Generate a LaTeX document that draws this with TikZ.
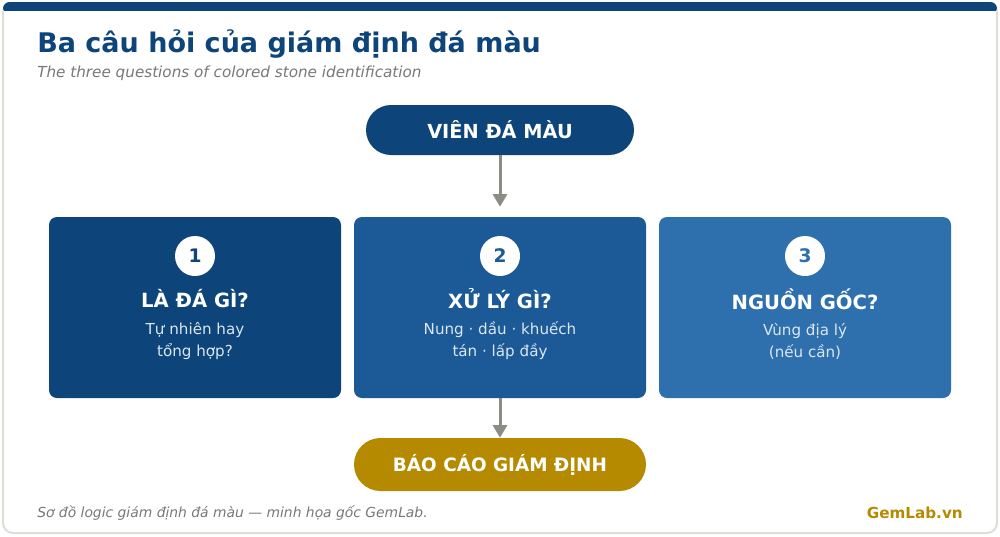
\documentclass[tikz,border=0pt]{standalone}
\usepackage{fontspec}
\setmainfont{DejaVu Sans}
\usetikzlibrary{arrows.meta}

\definecolor{navy}{RGB}{13,68,121}
\definecolor{midblue}{RGB}{27,90,151}
\definecolor{lightblue}{RGB}{46,111,174}
\definecolor{gold}{RGB}{181,138,0}
\definecolor{arrowgray}{RGB}{140,140,132}
\definecolor{framegray}{RGB}{222,222,214}
\definecolor{subgray}{RGB}{120,120,120}
\definecolor{desctext}{RGB}{220,230,242}

\tikzset{
  pill/.style={fill=#1, rounded corners=18.75pt, minimum width=201pt, minimum height=37.5pt,
    text=white, font=\bfseries\fontsize{14.5}{17}\selectfont, inner sep=0pt},
  qbox/.style={fill=#1, rounded corners=6pt, minimum width=219pt, minimum height=135.75pt, inner sep=0pt},
  numdot/.style={circle, fill=white, minimum size=30pt, inner sep=0pt, text=#1,
    font=\bfseries\fontsize{14}{16}\selectfont},
  qhead/.style={text=white, font=\bfseries\fontsize{14.7}{17}\selectfont, inner sep=0pt},
  qdesc/.style={text=desctext, align=center, font=\fontsize{11.35}{16.5}\selectfont, inner sep=0pt},
  flow/.style={draw=arrowgray, line width=2.25pt, -{Triangle[width=10.5pt,length=9.5pt]}}
}

\begin{document}
\begin{tikzpicture}[x=0.75pt,y=0.75pt,yscale=-1,xscale=1]
        \useasboundingbox (0,0) rectangle (1000,536);

        % card and top bar
        \draw [draw=framegray, line width=1.5pt, fill=white, rounded corners=7.5pt] (3,3) rectangle (997,533);
        \fill [navy, rounded corners=5pt] (3,2) rectangle (997,14);
        \fill [white] (4,11) rectangle (996,18);

        % Title
        \node (title) [anchor=west, text=navy, font=\bfseries\fontsize{20.25}{24}\selectfont, inner sep=0pt] at (37,44) {Ba câu hỏi của giám định đá màu};
        \node (subtitle) [anchor=west, text=subgray, font=\itshape\fontsize{11.4}{14}\selectfont, inner sep=0pt] at (37,73) {The three questions of colored stone identification};

        % Top and bottom pills
        \node (stone) [pill=navy] at (500,130) {VIÊN ĐÁ MÀU};
        \node (report) [pill=gold, minimum width=219pt, minimum height=39.75pt, rounded corners=19.875pt,
          font=\bfseries\fontsize{13.8}{17}\selectfont] at (500,464.5) {BÁO CÁO GIÁM ĐỊNH};

        % Question boxes
        \node (boxA) [qbox=navy] at (195,307.5) {};
        \node (boxB) [qbox=midblue] at (500,307.5) {};
        \node (boxC) [qbox=lightblue] at (805,307.5) {};

        \node (numA) [numdot=navy] at (195,256) {1};
        \node (numB) [numdot=midblue] at (500,256) {2};
        \node (numC) [numdot=lightblue] at (805,256) {3};

        \node (headA) [qhead] at (195,299) {LÀ ĐÁ GÌ?};
        \node (headB) [qhead] at (500,299) {XỬ LÝ GÌ?};
        \node (headC) [qhead] at (805,299) {NGUỒN GỐC?};

        \node (descA) [qdesc] at (195,341) {Tự nhiên hay\\tổng hợp?};
        \node (descB) [qdesc] at (500,341) {Nung · dầu · khuếch\\tán · lấp đầy};
        \node (descC) [qdesc] at (805,341) {Vùng địa lý\\(nếu cần)};

        % Arrows
        \draw [flow, shorten >=7.5pt] (stone.south) -- (boxB.north);
        \draw [flow] (boxB.south) -- (report.north);

        % Footer
        \node (note) [anchor=west, text=subgray, font=\itshape\fontsize{10.4}{12}\selectfont, inner sep=0pt] at (37,513) {Sơ đồ logic giám định đá màu — minh họa gốc GemLab.};
        \node (brand) [anchor=east, text=gold, font=\bfseries\fontsize{11.4}{13}\selectfont, inner sep=0pt] at (963,513) {GemLab.vn};
\end{tikzpicture}
\end{document}
